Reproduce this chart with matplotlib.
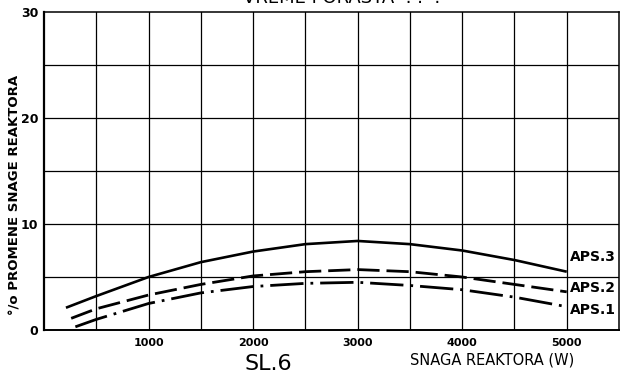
import matplotlib
matplotlib.use("Agg")
import matplotlib.pyplot as plt
import numpy as np

# --- data ---
aps3_x = [210, 500, 1000, 1500, 2000, 2500, 3000, 3500, 4000, 4500, 5000]
aps3_y = [2.1, 3.2, 5.0, 6.4, 7.4, 8.1, 8.4, 8.1, 7.5, 6.6, 5.5]
aps2_x = [260, 500, 1000, 1500, 2000, 2500, 3000, 3500, 4000, 4500, 5000]
aps2_y = [1.1, 2.0, 3.3, 4.3, 5.1, 5.5, 5.7, 5.5, 5.0, 4.3, 3.6]
aps1_x = [300, 500, 1000, 1500, 2000, 2500, 3000, 3500, 4000, 4500, 5000]
aps1_y = [0.3, 1.0, 2.5, 3.5, 4.1, 4.4, 4.5, 4.2, 3.8, 3.1, 2.2]
series_names = ["APS.3", "APS.2", "APS.1"]
label_y = [6.9, 4.0, 1.9]
x_ticks = [1000, 2000, 3000, 4000, 5000]
x_ticklabels = ["1000", "2000", "3000", "4000", "5000"]
y_ticks = [0, 10, 20, 30]
y_ticklabels = ["0", "10", "20", "30"]

fig = plt.figure(figsize=(6.2, 3.78), dpi=100)
ax = fig.add_axes([44/620, 48/378, 575/620, 318/378])
ax.set_xlim(0, 5500)
ax.set_ylim(0, 30)

# grid
for gx in np.arange(500, 5500, 500):
    ax.axvline(gx, color="black", lw=0.9, zorder=1)
for gy in np.arange(5, 30, 5):
    ax.axhline(gy, color="black", lw=0.9, zorder=1)
for s in ax.spines.values():
    s.set_linewidth(1.1)
ax.spines["left"].set_linewidth(1.6)
ax.spines["bottom"].set_linewidth(1.4)

ax.plot(aps3_x, aps3_y, color="black", lw=1.9, solid_capstyle="butt", zorder=3)
ax.plot(aps2_x, aps2_y, color="black", lw=2.0, dashes=(8, 2.5), zorder=3)
ax.plot(aps1_x, aps1_y, color="black", lw=2.0, dashes=(12, 2.5, 1, 2.5), zorder=3)

for name, ly in zip(series_names, label_y):
    ax.text(5030, ly, name, fontsize=10, fontweight="bold", va="center", ha="left")

ax.set_xticks(x_ticks)
ax.set_xticklabels(x_ticklabels, fontsize=8, fontweight="bold")
ax.set_yticks(y_ticks)
ax.set_yticklabels(y_ticklabels, fontsize=9, fontweight="bold")
ax.tick_params(axis="x", length=0, pad=6)
ax.tick_params(axis="y", length=0, pad=4)

fig.text(15/620, 1 - 195/378, "°/o PROMENE SNAGE REAKTORA", rotation=90,
         fontsize=9.5, fontweight="bold", ha="center", va="center")
fig.text(492/620, 1 - 360/378, "SNAGA REAKTORA (W)", fontsize=10.5,
         ha="center", va="center")
fig.text(268/620, 1 - 364/378, "SL.6", fontsize=16, ha="center", va="center")
fig.text(243/620, 1 - 7/378, "VREME PORASTA  . .  .", fontsize=13,
         ha="left", va="bottom")

fig.savefig("out.png", dpi=100)
